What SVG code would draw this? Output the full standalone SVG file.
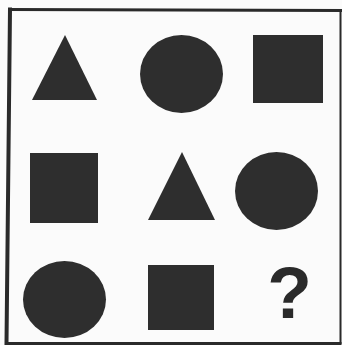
<svg xmlns="http://www.w3.org/2000/svg" width="342" height="345" viewBox="0 0 342 345">
<style>
.s{fill:#2e2e2e}
.frame{fill:none;stroke:#2a2a2a;stroke-linecap:square}
.q{font-family:"Liberation Sans",Arial,sans-serif;font-weight:bold;font-size:73px;fill:#2a2a2a;text-anchor:middle}
</style>
<rect width="342" height="345" fill="#fbfbfb"/>
<g id="frame">
<path class="frame" d="M10 9.5 L342 10.5" stroke-width="3"/>
<path class="frame" d="M10 9.5 L6.5 343" stroke-width="4"/>
<path class="frame" d="M6.5 343.5 L340 343.5" stroke-width="3"/>
<path class="frame" d="M340.5 11 L340.5 343" stroke-width="2"/>
</g>
<g id="connectors"></g>
<g id="r1c1"><polygon class="s" points="65,35 32,100 97,100"/></g>
<g id="r1c2"><ellipse class="s" cx="181.5" cy="74" rx="41.5" ry="39"/></g>
<g id="r1c3"><rect class="s" x="253" y="35" width="70" height="68"/></g>
<g id="r2c1"><rect class="s" x="30" y="153" width="68" height="70"/></g>
<g id="r2c2"><polygon class="s" points="182,152 148,220 215,220"/></g>
<g id="r2c3"><ellipse class="s" cx="276.5" cy="191" rx="41.5" ry="39"/></g>
<g id="r3c1"><ellipse class="s" cx="64.5" cy="299.5" rx="41.5" ry="38.5"/></g>
<g id="r3c2"><rect class="s" x="148" y="265" width="66" height="65"/></g>
<g id="r3c3"><text class="q" x="289.5" y="318">?</text></g>
</svg>
